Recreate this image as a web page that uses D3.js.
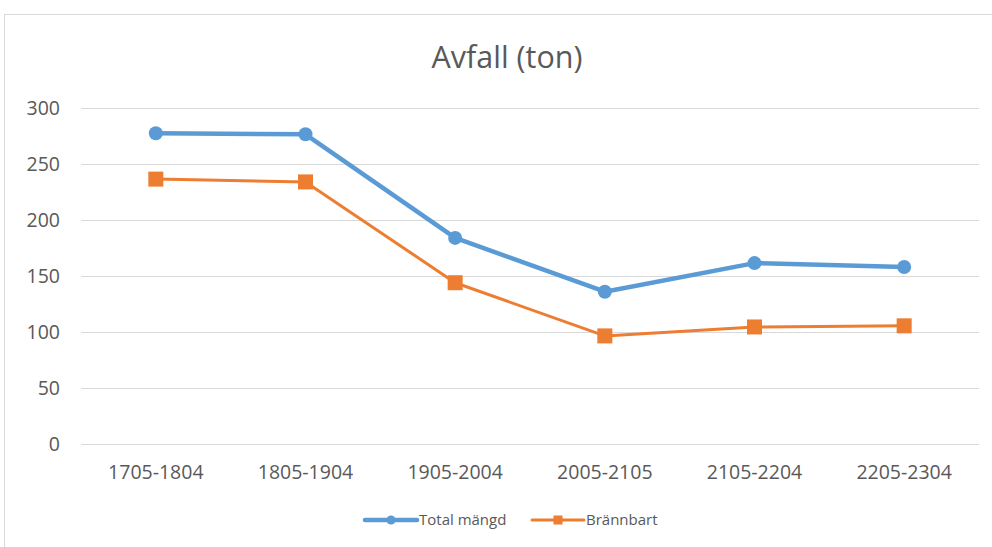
<!DOCTYPE html>
<html>
<head>
<meta charset="utf-8">
<script src="https://cdn.jsdelivr.net/npm/d3@7"></script>
<style>
  body { margin: 0; background: #fff; }
  svg text { font-family: "Open Sans", sans-serif; fill: #595959; }
</style>
</head>
<body>
<div id="chart"></div>
<script>
const categories = ["1705-1804", "1805-1904", "1905-2004", "2005-2105", "2105-2204", "2205-2304"];
const totalMangd = [277.5, 276.5, 184, 136, 161.5, 158];
const brannbart = [236.5, 234, 144, 96.5, 104.5, 105.5];
const yTicks = [0, 50, 100, 150, 200, 250, 300];
const seriesNames = ["Total mängd", "Brännbart"];

const width = 992, height = 547;
const plot = {left: 81, right: 979, top: 108, bottom: 444};

const svg = d3.select("#chart").append("svg")
  .attr("width", width)
  .attr("height", height);

// chart border (runs off the right and bottom like the screenshot)
svg.append("rect")
  .attr("x", 4.5).attr("y", 14.5)
  .attr("width", 1000).attr("height", 600)
  .attr("fill", "none")
  .attr("stroke", "#d9d9d9");

const x = d3.scaleBand().domain(categories).range([plot.left, plot.right]);
const y = d3.scaleLinear().domain([0, 300]).range([plot.bottom, plot.top]);

// gridlines
svg.append("g").selectAll("line").data(yTicks).enter().append("line")
  .attr("x1", plot.left).attr("x2", plot.right)
  .attr("y1", d => Math.round(y(d)) + 0.5).attr("y2", d => Math.round(y(d)) + 0.5)
  .attr("stroke", "#d9d9d9").attr("stroke-width", 1);

// y labels
svg.append("g").selectAll("text").data(yTicks).enter().append("text")
  .attr("x", 60).attr("y", d => y(d))
  .attr("dy", "0.35em")
  .attr("text-anchor", "end")
  .style("font-size", "19.5px")
  .text(d => d);

// x labels
svg.append("g").selectAll("text").data(categories).enter().append("text")
  .attr("x", d => x(d) + x.bandwidth() / 2).attr("y", 472)
  .attr("dy", "0.35em")
  .attr("text-anchor", "middle")
  .style("font-size", "19.5px")
  .text(d => d);

// title
svg.append("text")
  .attr("x", 507).attr("y", 57)
  .attr("dy", "0.35em")
  .attr("text-anchor", "middle")
  .style("font-size", "30.5px")
  .text("Avfall (ton)");

const line = d3.line()
  .x((d, i) => x(categories[i]) + x.bandwidth() / 2)
  .y(d => y(d));

// Total mängd
svg.append("path").datum(totalMangd)
  .attr("d", line)
  .attr("fill", "none")
  .attr("stroke", "#5b9bd5")
  .attr("stroke-width", 4.5)
  .attr("stroke-linejoin", "round");
svg.append("g").selectAll("circle").data(totalMangd).enter().append("circle")
  .attr("cx", (d, i) => x(categories[i]) + x.bandwidth() / 2)
  .attr("cy", d => y(d))
  .attr("r", 7)
  .attr("fill", "#5b9bd5");

// Brännbart
svg.append("path").datum(brannbart)
  .attr("d", line)
  .attr("fill", "none")
  .attr("stroke", "#ed7d31")
  .attr("stroke-width", 3)
  .attr("stroke-linejoin", "round");
const sq = 15;
svg.append("g").selectAll("rect").data(brannbart).enter().append("rect")
  .attr("x", (d, i) => x(categories[i]) + x.bandwidth() / 2 - sq / 2)
  .attr("y", d => y(d) - sq / 2)
  .attr("width", sq).attr("height", sq)
  .attr("fill", "#ed7d31");

// legend
const legendItems = [
  {name: seriesNames[0], color: "#5b9bd5", x: 365, w: 4.5, marker: "circle"},
  {name: seriesNames[1], color: "#ed7d31", x: 532, w: 3, marker: "square"}
];
const ly = 520;
const lg = svg.append("g").selectAll("g").data(legendItems).enter().append("g");
lg.append("line")
  .attr("x1", d => d.x).attr("x2", d => d.x + 52)
  .attr("y1", ly).attr("y2", ly)
  .attr("stroke", d => d.color)
  .attr("stroke-width", d => d.w)
  .attr("stroke-linecap", "round");
lg.filter(d => d.marker === "circle").append("circle")
  .attr("cx", d => d.x + 26).attr("cy", ly).attr("r", 4.5)
  .attr("fill", d => d.color);
lg.filter(d => d.marker === "square").append("rect")
  .attr("x", d => d.x + 26 - 4.5).attr("y", ly - 4.5)
  .attr("width", 9).attr("height", 9)
  .attr("fill", d => d.color);
lg.append("text")
  .attr("x", d => d.x + 54).attr("y", ly)
  .attr("dy", "0.35em")
  .style("font-size", "15px")
  .text(d => d.name);
</script>
</body>
</html>
